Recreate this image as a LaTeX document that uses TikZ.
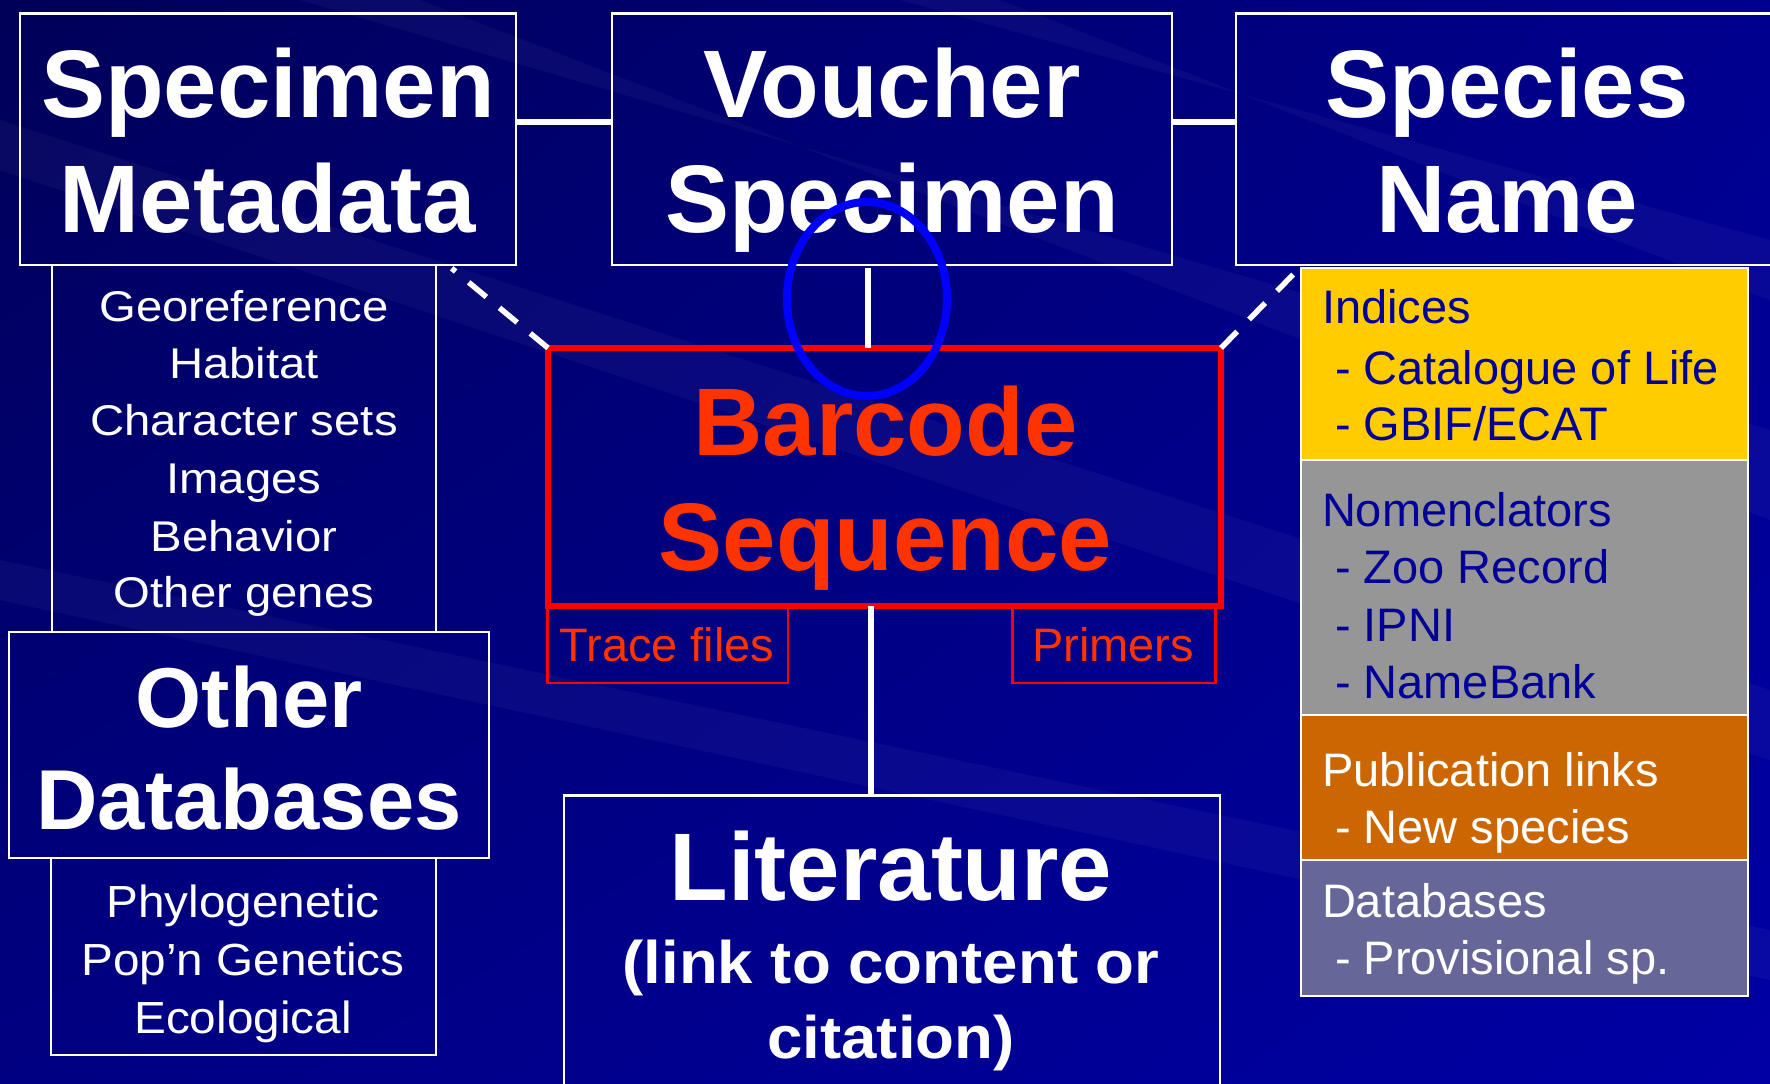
\documentclass[tikz,border=0pt]{standalone}
\usepackage{fontspec}
\setmainfont{Liberation Sans}
\newfontfamily\listfam[FakeStretch=1.1]{Liberation Sans}
\newfontfamily\phylofam[FakeStretch=1.06]{Liberation Sans}
\newfontfamily\litfam[FakeStretch=1.06]{Liberation Sans Bold}
\usetikzlibrary{shapes.geometric,shadings}
\definecolor{bgA}{HTML}{000058}
\definecolor{bgB}{HTML}{00008E}
\definecolor{bgC}{HTML}{000082}
\definecolor{bgD}{HTML}{0000A4}
\definecolor{redbox}{HTML}{FF0000}
\definecolor{redtxt}{HTML}{FF3300}
\definecolor{ringblue}{HTML}{0000FF}
\definecolor{yel}{HTML}{FFCC00}
\definecolor{gry}{HTML}{969696}
\definecolor{org}{HTML}{CC6600}
\definecolor{pur}{HTML}{666699}
\definecolor{navytxt}{HTML}{000099}
\begin{document}
\begin{tikzpicture}[x=1pt,y=-1pt,
  wbox/.style={draw=white, line width=2.5pt, inner sep=0pt, outer sep=0pt},
  rbox/.style={draw=redbox, line width=2.5pt, inner sep=0pt, outer sep=0pt},
  panel/.style={draw=white, line width=2pt, inner sep=0pt, outer sep=0pt, minimum width=447pt},
  lbl/.style={inner sep=0pt, outer sep=0pt, anchor=base, text=white},
  plbl/.style={inner sep=0pt, outer sep=0pt, anchor=base west, font=\fontsize{47}{47}\selectfont},
  titlef/.style={font=\bfseries\fontsize{96}{96}\selectfont},
  odbf/.style={font=\bfseries\fontsize{85}{85}\selectfont},
  listf/.style={font=\listfam\fontsize{43}{43}\selectfont},
  phylof/.style={font=\phylofam\fontsize{45}{45}\selectfont},
  smallf/.style={font=\fontsize{47}{47}\selectfont},
  litf/.style={font=\litfam\fontsize{60}{60}\selectfont},
  conn/.style={draw=white, line width=6pt},
  dashline/.style={draw=white, line width=5.5pt, dash pattern=on 23pt off 17pt}
]
\useasboundingbox (0,0) rectangle (1770,1084);
% background
\shade[upper left=bgA, upper right=bgB, lower left=bgC, lower right=bgD] (0,0) rectangle (1770,1084);
\begin{scope}[fill=white, fill opacity=0.035]
  \fill (0,120) -- (0,170) -- (1770,760) -- (1770,690) -- cycle;
  \fill (300,0) -- (420,0) -- (1770,520) -- (1770,430) -- cycle;
  \fill (0,560) -- (0,600) -- (1770,980) -- (1770,930) -- cycle;
  \fill (900,0) -- (1000,0) -- (1770,300) -- (1770,240) -- cycle;
\end{scope}

% top boxes
\node[wbox, minimum width=496pt, minimum height=251.5pt] (sm) at (268,139.25) {};
\node[wbox, minimum width=560pt, minimum height=251.5pt] (vs) at (892,139.25) {};
\node[wbox, minimum width=544pt, minimum height=251.5pt] (sn) at (1508,139.25) {};
% left column
\node[wbox, minimum width=384pt, minimum height=367pt] (ml) at (244,448.5) {};
\node[wbox, minimum width=480pt, minimum height=226pt] (od) at (249,745) {};
\node[wbox, minimum width=385pt, minimum height=197pt] (pl) at (243.5,956.5) {};
% centre
\node[draw=redbox, line width=6pt, inner sep=0pt, outer sep=0pt, minimum width=673pt, minimum height=258pt] (bc) at (884.5,477) {};
\node[rbox, minimum width=240.5pt, minimum height=77pt] (tf) at (667.75,644.5) {};
\node[rbox, minimum width=203pt, minimum height=77pt] (pr) at (1114,644.5) {};
\node[wbox, minimum width=656pt, minimum height=304.5pt] (lit) at (892,947.75) {};
% right panel
\node[panel, fill=yel, minimum height=192pt] (idx) at (1524,363.5) {};
\node[panel, fill=gry, minimum height=255.5pt] (nom) at (1524,587.25) {};
\node[panel, fill=org, minimum height=144.5pt] (pub) at (1524,787.25) {};
\node[panel, fill=pur, minimum height=136.5pt] (dbs) at (1524,927.75) {};

% titles
\node[lbl,titlef] (smA) at (268,117) {Specimen};
\node[lbl,titlef] (smB) at (268,232) {Metadata};
\node[lbl,titlef] (vsA) at (892,117) {Voucher};
\node[lbl,titlef] (vsB) at (892,232) {Specimen};
\node[lbl,titlef] (snA) at (1507,117) {Species};
\node[lbl,titlef] (snB) at (1507,232) {Name};

% metadata list
\node[lbl,listf] (m1) at (244,321) {Georeference};
\node[lbl,listf] (m2) at (244,378.3) {Habitat};
\node[lbl,listf] (m3) at (244,435.7) {Character sets};
\node[lbl,listf] (m4) at (244,493.3) {Images};
\node[lbl,listf] (m5) at (244,551) {Behavior};
\node[lbl,listf] (m6) at (244,607.7) {Other genes};

% other databases
\node[lbl,odbf] (odA) at (249,727) {Other};
\node[lbl,odbf] (odB) at (249,829) {Databases};
\node[lbl,phylof] (p1) at (243,917) {Phylogenetic};
\node[lbl,phylof] (p2) at (243,975) {Pop’n Genetics};
\node[lbl,phylof] (p3) at (243,1033) {Ecological};

% barcode
\node[lbl,titlef,text=redtxt] (bcA) at (885.5,455) {Barcode};
\node[lbl,titlef,text=redtxt] (bcB) at (885.5,570) {Sequence};
\node[lbl,smallf,text=redtxt] (tfT) at (667,661.7) {Trace files};
\node[lbl,smallf,text=redtxt] (prT) at (1113,661.7) {Primers};

% literature
\node[lbl,titlef] (litA) at (891,900.7) {Literature};
\node[lbl,litf] (litB) at (891,983) {(link to content or};
\node[lbl,litf] (litC) at (891,1058) {citation)};

% right panel text
\node[plbl,text=navytxt] (i1) at (1322,323.6) {Indices};
\node[plbl,text=navytxt] (i2) at (1322,384) {\hspace*{13pt}- Catalogue of Life};
\node[plbl,text=navytxt] (i3) at (1322,440) {\hspace*{13pt}- GBIF/ECAT};
\node[plbl,text=navytxt] (n1) at (1322,526) {Nomenclators};
\node[plbl,text=navytxt] (n2) at (1322,583) {\hspace*{13pt}- Zoo Record};
\node[plbl,text=navytxt] (n3) at (1322,641) {\hspace*{13pt}- IPNI};
\node[plbl,text=navytxt] (n4) at (1322,698) {\hspace*{13pt}- NameBank};
\node[plbl,text=white] (u1) at (1322,786) {Publication links};
\node[plbl,text=white] (u2) at (1322,843) {\hspace*{13pt}- New species};
\node[plbl,text=white] (d1) at (1322,917) {Databases};
\node[plbl,text=white] (d2) at (1322,974) {\hspace*{13pt}- Provisional sp.};

% connectors
\coordinate (vx) at (868,268);
\coordinate (lx) at (870.5,700);
\coordinate (dl) at (451.7,268.3);
\coordinate (dr) at (1299.3,268.3);
\draw[conn] ([yshift=17pt]sm.east) -- ([yshift=17pt]vs.west);
\draw[conn] ([yshift=17pt]vs.east) -- ([yshift=17pt]sn.west);
\draw[conn, line width=5.5pt] (vx) -- (vx |- bc.north);
\draw[conn] (lx |- bc.south) -- (lx |- lit.north);
\draw[dashline] (bc.north west) -- (dl);
\draw[dashline] (bc.north east) -- (dr);

% blue ring
\node[draw=ringblue, line width=8pt, ellipse, inner sep=0pt, minimum width=160pt, minimum height=194pt] (ring) at (867,299) {};
\end{tikzpicture}
\end{document}
